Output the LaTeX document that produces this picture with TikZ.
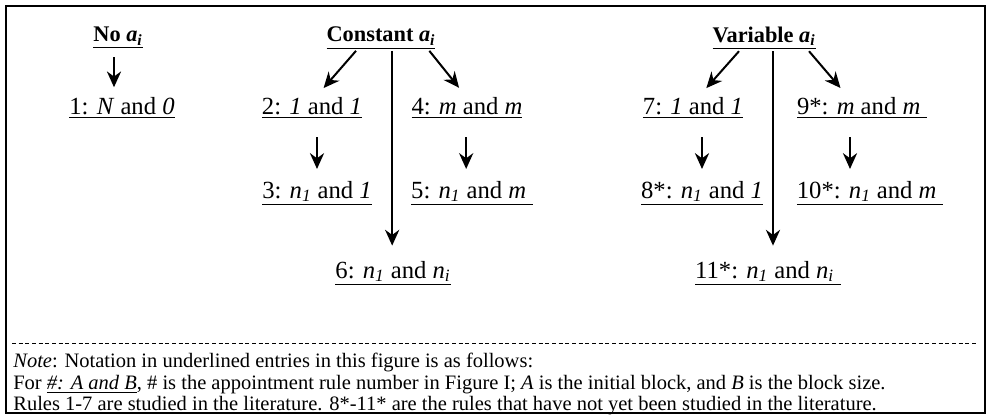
\documentclass[tikz,border=0pt]{standalone}
\usepackage{fontspec}
\setmainfont{Liberation Serif}
\usetikzlibrary{positioning,arrows.meta}
\tikzset{
  hd/.style   ={font=\fontsize{13.4}{16}\selectfont\bfseries, inner sep=1pt},
  entry/.style={font=\fontsize{14.8}{17}\selectfont, inner sep=1pt},
  arr/.style  ={-{Stealth[length=9.5pt,width=8.5pt]}, line width=1.2pt},
  notel/.style={font=\fontsize{12.3}{14}\selectfont, anchor=west, inner sep=0pt},
}
\newcommand{\ai}{\textit{a}\textsubscript{\textit{i}}}
\newcommand{\nsub}[2]{\textit{#1}\textsubscript{\textit{#2}}}

\begin{document}
\begin{tikzpicture}[x=0.6pt,y=-0.6pt]
  \useasboundingbox (0,0) rectangle (988,419);
  \draw[line width=1.2pt] (6,6) rectangle (985,413);

  % headings
  \node[hd] (noa) at (118,38) {\underline{No \ai}};
  \node[hd] (con) at (381,38) {\underline{Constant \ai}};
  \node[hd] (var) at (764,38) {\underline{Variable \ai}};

  % rules
  \node[entry] (r1)  at (122,108) {\underline{1: \textit{N} and \textit{0}}};
  \node[entry] (r2)  at (312,108) {\underline{2: \textit{1} and \textit{1}}};
  \node[entry] (r4)  at (467,108) {\underline{4: \textit{m} and \textit{m}}};
  \node[entry] (r3)  at (317,193) {\underline{3: \nsub{n}{1} and \textit{1}}};
  \node[entry] (r5)  at (472,193) {\underline{5: \nsub{n}{1} and \textit{m}\hspace{4pt}}};
  \node[entry] (r6)  at (393,273) {\underline{6: \nsub{n}{1} and \nsub{n}{i}}};
  \node[entry] (r7)  at (693,108) {\underline{7: \textit{1} and \textit{1}}};
  \node[entry] (r9)  at (862,108) {\underline{9*: \textit{m} and \textit{m}\hspace{4pt}}};
  \node[entry] (r8)  at (702,193) {\underline{8*: \nsub{n}{1} and \textit{1}}};
  \node[entry] (r10) at (870,193) {\underline{10*: \nsub{n}{1} and \textit{m}\hspace{4pt}}};
  \node[entry] (r11) at (768,273) {\underline{11*: \nsub{n}{1} and \nsub{n}{i}\hspace{4pt}}};

  % arrows
  \draw[arr, shorten <=4pt, shorten >=5pt] (noa.south -| 114,0) -- (r1.north -| 114,0);
  \draw[arr, shorten >=6pt] ([xshift=-15pt]con.south) -- ([xshift=3pt]r2.north);
  \draw[arr, shorten >=6pt] ([xshift=29pt]con.south) -- ([xshift=-1pt]r4.north);
  \draw[arr, shorten >=8pt] ([xshift=-0.5pt]r6.north |- con.south) -- ([xshift=-0.5pt]r6.north);
  \draw[arr, shorten <=10pt, shorten >=6pt] (r2.south -| r3.north) -- (r3.north);
  \draw[arr, shorten <=10pt, shorten >=6pt] ([xshift=-3.5pt]r4.south -| r5.north) -- ([xshift=-3.5pt]r5.north);
  \draw[arr, shorten >=6pt] ([xshift=-15pt]var.south) -- ([xshift=4pt]r7.north);
  \draw[arr, shorten >=6pt] ([xshift=27pt]var.south) -- ([xshift=-9pt]r9.north);
  \draw[arr, shorten >=8pt] ([xshift=3pt]r11.north |- var.south) -- ([xshift=3pt]r11.north);
  \draw[arr, shorten <=10pt, shorten >=6pt] (r7.south -| r8.north) -- (r8.north);
  \draw[arr, shorten <=10pt, shorten >=6pt] ([xshift=-12pt]r9.south -| r10.north) -- ([xshift=-12pt]r10.north);

  % note
  \draw[line width=0.5pt, dash pattern=on 2.4pt off 1.6pt] (12,343) -- (978,343);
  \node[notel] (n1) at (13,362) {\textit{Note}: Notation in underlined entries in this figure is as follows:};
  \node[notel] (n2) at (13,385) {For \underline{\textit{\#: A and B}}, \# is the appointment rule number in Figure I; \textit{A} is the initial block, and \textit{B} is the block size.};
  \node[notel] (n3) at (13,406) {Rules 1-7 are studied in the literature. 8*-11* are the rules that have not yet been studied in the literature.};
\end{tikzpicture}
\end{document}
